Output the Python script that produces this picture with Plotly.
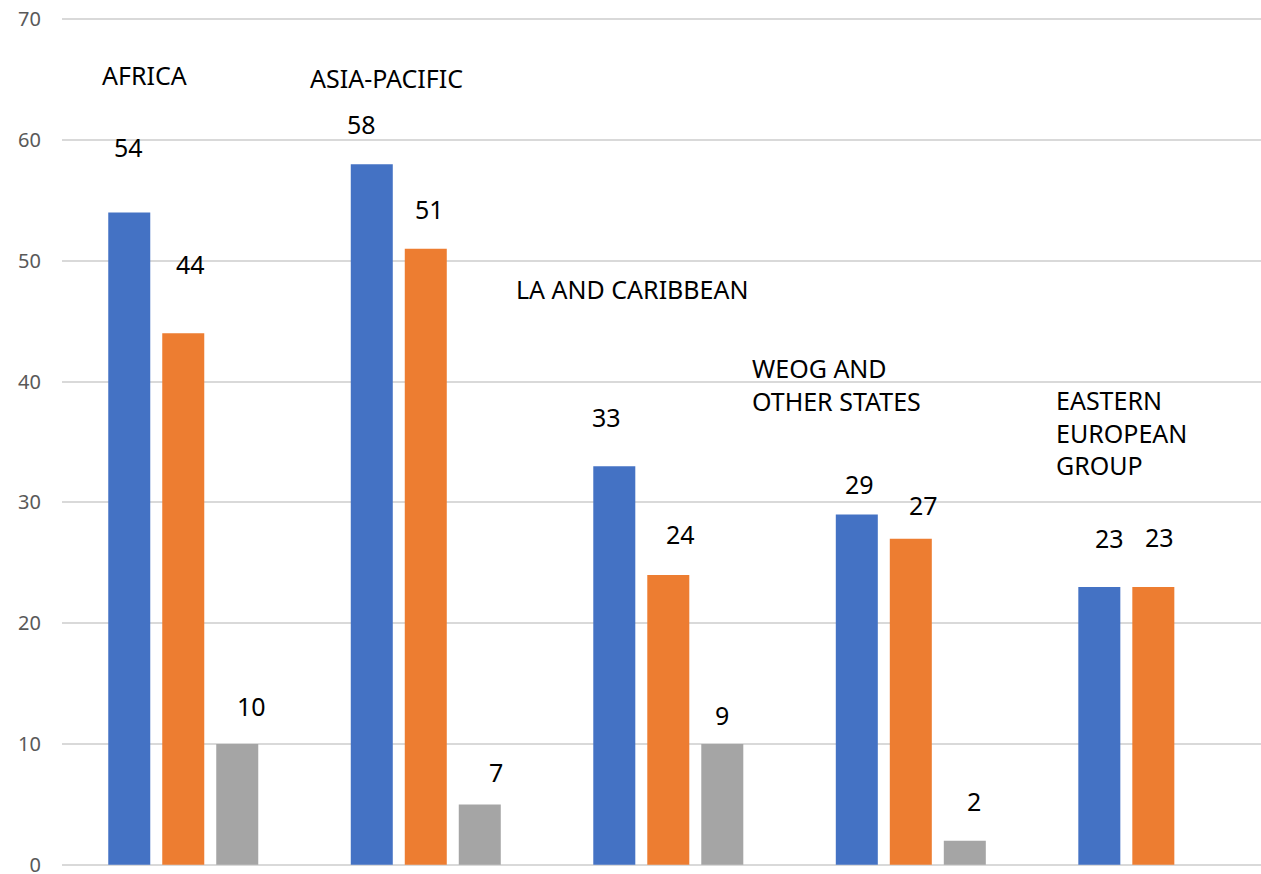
import plotly.graph_objects as go

# ---- data ----
regions = ["AFRICA", "ASIA-PACIFIC", "LA AND CARIBBEAN", "WEOG AND OTHER STATES", "EASTERN EUROPEAN GROUP"]
region_labels = ["AFRICA", "ASIA-PACIFIC", "LA AND CARIBBEAN", "WEOG AND<br>OTHER STATES", "EASTERN<br>EUROPEAN<br>GROUP"]
series1 = [54, 58, 33, 29, 23]
series2 = [44, 51, 24, 27, 23]
series3 = [10, 5, 10, 2, 0]
series3_text = ["10", "7", "9", "2", ""]
y_ticks = [0, 10, 20, 30, 40, 50, 60, 70]

# ---- style / placement (pixels) ----
colors = ["#4472C4", "#ED7D31", "#A5A5A5"]
bar_offsets = [-54, 0, 54]
# per-label (dx, dy) pixel offsets of value labels from bar top
label_shift = [
    [(-1, 65), (-10, 40), (-8, 49), (3, 30), (10, 49)],
    [(7, 69), (4, 40), (12, 41), (13, 34), (6, 50)],
    [(14, 38), (16, 32), (0, 29), (9, 40), (0, 40)],
]
# category label placement: y (data units) and x shift of left edge (px)
cat_label_y = [65.4, 65.1, 47.7, 39.8, 35.8]
cat_label_dx = [-83, -118, -154, -161, -99]

FONT = "Noto Sans"

fig = go.Figure()
all_series = [series1, series2, series3]
names = ["Series 1", "Series 2", "Series 3"]
for s, vals in enumerate(all_series):
    fig.add_trace(go.Bar(
        x=regions, y=vals, name=names[s],
        marker=dict(color=colors[s], line=dict(color=colors[s], width=0)),
        hoverinfo="x+y",
    ))

texts = [[str(v) for v in series1], [str(v) for v in series2], series3_text]
for s, vals in enumerate(all_series):
    for i, v in enumerate(vals):
        t = texts[s][i]
        if not t:
            continue
        dx, dy = label_shift[s][i]
        fig.add_annotation(
            x=regions[i], y=v, xref="x", yref="y",
            text=t, showarrow=False,
            xshift=bar_offsets[s] + dx, yshift=dy,
            xanchor="center", yanchor="middle",
            font=dict(family=FONT, size=25, color="#000000"),
        )

for i, lab in enumerate(region_labels):
    fig.add_annotation(
        x=regions[i], y=cat_label_y[i], xref="x", yref="y",
        text=lab, showarrow=False, align="left",
        xshift=cat_label_dx[i], xanchor="left", yanchor="middle",
        font=dict(family=FONT, size=25, color="#000000"),
    )

fig.update_layout(
    width=1261, height=874,
    margin=dict(l=62, r=0, t=18, b=8),
    paper_bgcolor="white", plot_bgcolor="white",
    barmode="group", bargap=0.332, bargroupgap=0.222,
    showlegend=False,
    font=dict(family=FONT),
    xaxis=dict(
        type="category", categoryorder="array", categoryarray=regions,
        range=[-0.5, 4.444], showticklabels=False, showgrid=False,
        zeroline=False, showline=False, ticks="",
    ),
    yaxis=dict(
        range=[-0.1, 70.1], tickvals=y_ticks, showgrid=True,
        gridcolor="#D9D9D9", gridwidth=1.5, zeroline=True,
        zerolinecolor="#D9D9D9", zerolinewidth=1.5,
        showline=False, ticks="", automargin=False,
        tickfont=dict(family=FONT, size=20, color="#595959"),
        ticklabelstandoff=20, ticklabeloverflow="allow",
    ),
)

fig.write_html("out.html")
